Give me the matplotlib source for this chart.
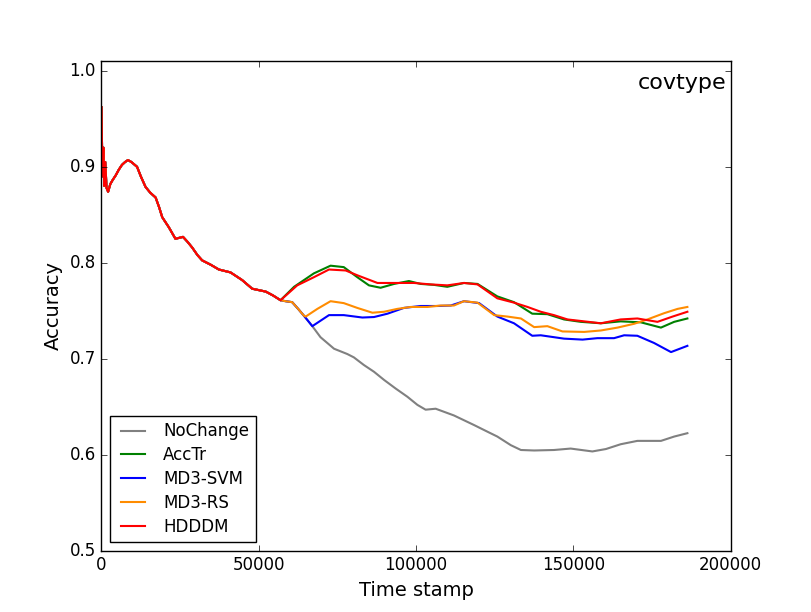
import numpy as np
import matplotlib
matplotlib.use("Agg")
import matplotlib.pyplot as plt

# ---- data ----
# part that all methods share (before any drift handling kicks in)
t_shared = [0, 300, 600, 900, 1200, 1600, 2100, 2800, 3500, 4500, 5500, 6500,
            7500, 8400, 9500, 11300, 12500, 14000, 15500, 17200, 18300, 19300,
            21400, 23500, 24700, 25900, 27300, 28800, 30500, 32000, 34700,
            37300, 41000, 44700, 47900, 52200, 54500, 56900]
acc_shared = [0.962, 0.89, 0.92, 0.88, 0.905, 0.878, 0.874, 0.882, 0.886, 0.891,
              0.897, 0.902, 0.905, 0.907, 0.905, 0.900, 0.890, 0.879, 0.873,
              0.868, 0.858, 0.8475, 0.837, 0.825, 0.826, 0.827, 0.822, 0.816,
              0.808, 0.8025, 0.798, 0.793, 0.790, 0.782, 0.773, 0.770, 0.766,
              0.761]

# segment shared by NoChange / MD3-SVM / MD3-RS
t_md3 = [58500, 60600, 62500, 64300]
acc_md3 = [0.760, 0.759, 0.752, 0.745]

t_nochange = [67000, 69600, 73900, 78100, 80200, 83400, 86600, 89800, 93500,
              97200, 100400, 103000, 106200, 112000, 115200, 118400, 122700,
              125800, 130100, 133300, 137500, 143800, 149100, 156000, 160300,
              165000, 170300, 177800, 182000, 186200]
acc_nochange = [0.734, 0.7225, 0.7105, 0.705, 0.7015, 0.6935, 0.6865, 0.678,
                0.669, 0.6605, 0.652, 0.647, 0.648, 0.641, 0.636, 0.631, 0.624,
                0.619, 0.610, 0.605, 0.6045, 0.605, 0.6065, 0.6035, 0.606,
                0.611, 0.6145, 0.6145, 0.619, 0.6225]

t_acctr = [61200, 67500, 72800, 77000, 81300, 85000, 88700, 93000, 97700,
           101400, 105700, 109900, 115200, 119500, 125800, 131100, 136900,
           141700, 147000, 152300, 158700, 165000, 171400, 177800, 182000,
           186200]
acc_acctr = [0.775, 0.789, 0.797, 0.7955, 0.785, 0.7765, 0.774, 0.778, 0.781,
             0.778, 0.777, 0.775, 0.779, 0.778, 0.765, 0.759, 0.747, 0.7465,
             0.741, 0.7385, 0.737, 0.739, 0.738, 0.7325, 0.7385, 0.742]

t_svm = [67000, 72300, 77000, 82900, 86600, 90900, 96100, 101400, 106700,
         111000, 115200, 120000, 125800, 131100, 136900, 139600, 147000,
         152900, 157600, 162900, 166100, 170300, 175600, 181000, 186200]
acc_svm = [0.734, 0.7455, 0.7455, 0.743, 0.7435, 0.747, 0.753, 0.755, 0.755,
           0.7555, 0.760, 0.758, 0.744, 0.737, 0.724, 0.7245, 0.721, 0.720,
           0.7215, 0.7215, 0.7245, 0.724, 0.7165, 0.707, 0.7135]

t_rs = [64900, 68600, 72800, 77000, 81300, 86100, 89800, 94000, 98300,
        103600, 107800, 112000, 115200, 119500, 124800, 129000, 133300,
        137500, 141700, 146500, 153400, 158700, 164000, 169300, 173500,
        178800, 183100, 186200]
acc_rs = [0.744, 0.752, 0.760, 0.758, 0.753, 0.748, 0.749, 0.752, 0.754,
          0.754, 0.7555, 0.7555, 0.760, 0.7585, 0.7455, 0.744, 0.742, 0.733,
          0.734, 0.7285, 0.728, 0.7295, 0.7325, 0.7365, 0.741, 0.7475, 0.752,
          0.754]

t_hdddm = [62200, 67500, 72300, 77600, 81300, 87700, 94000, 99300, 104600,
           109900, 115200, 119500, 125800, 131100, 135400, 139600, 143800,
           148100, 153400, 158700, 165000, 170300, 176700, 181500, 186200]
acc_hdddm = [0.7765, 0.785, 0.793, 0.792, 0.787, 0.779, 0.779, 0.779, 0.7775,
             0.7765, 0.779, 0.7775, 0.763, 0.7585, 0.754, 0.749, 0.7455, 0.741,
             0.739, 0.737, 0.741, 0.742, 0.7385, 0.744, 0.749]

labels = ["NoChange", "AccTr", "MD3-SVM", "MD3-RS", "HDDDM"]
colors = ["gray", "green", "blue", "darkorange", "red"]

# ---- build full series ----
series = {
    "NoChange": (t_shared + t_md3 + t_nochange, acc_shared + acc_md3 + acc_nochange),
    "AccTr": (t_shared + t_acctr, acc_shared + acc_acctr),
    "MD3-SVM": (t_shared + t_md3 + t_svm, acc_shared + acc_md3 + acc_svm),
    "MD3-RS": (t_shared + t_md3 + t_rs, acc_shared + acc_md3 + acc_rs),
    "HDDDM": (t_shared + t_hdddm, acc_shared + acc_hdddm),
}

# ---- plot ----
plt.style.use("classic")
plt.rcParams["figure.facecolor"] = "white"
plt.rcParams["savefig.facecolor"] = "white"

fig = plt.figure(figsize=(8.12, 6.12), dpi=100)
ax = fig.add_subplot(111)

for name, col in zip(labels, colors):
    x, y = series[name]
    ax.plot(np.array(x), np.array(y), color=col, linewidth=1.5, label=name)

ax.set_xlim(0, 200000)
ax.set_ylim(0.5, 1.01)
ax.set_xticks([0, 50000, 100000, 150000, 200000])
ax.set_yticks([0.5, 0.6, 0.7, 0.8, 0.9, 1.0])
ax.set_xlabel("Time stamp", fontsize=14)
ax.set_ylabel("Accuracy", fontsize=14)
ax.text(0.993, 0.975, "covtype", transform=ax.transAxes, ha="right", va="top",
        fontsize=16)
ax.legend(loc="lower left", fontsize=12, labelspacing=0.35)

fig.savefig("out.png", dpi=100)
